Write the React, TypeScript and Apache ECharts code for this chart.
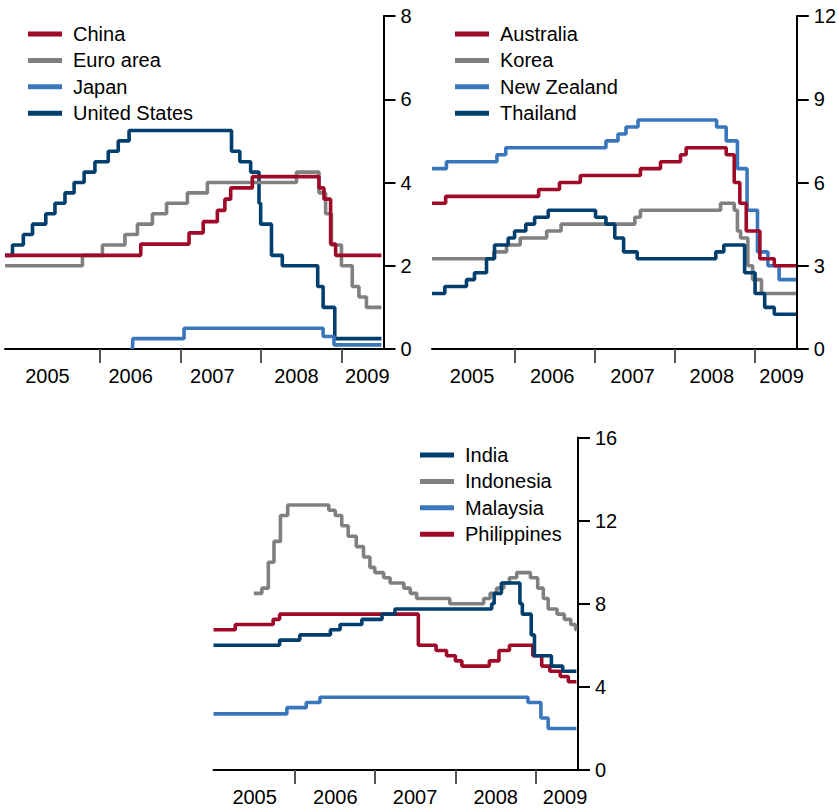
import React, { useEffect, useRef } from "react";
import * as echarts from "echarts";

const FONT = '"Liberation Sans", Arial, Helvetica, sans-serif';

const RED = "#9e0a27";
const GRAY = "#808080";
const LIGHT_BLUE = "#3a76bc";
const NAVY = "#003f6d";

// Year label text
const yearLabels = ["2005", "2006", "2007", "2008", "2009"];

// ---------- Panel 1 (left): China, Euro area, Japan, United States ----------
const END_L = 2009.52;
const chinaRates: [number, number][] = [
  [2005.0, 2.25], [2006.63, 2.52], [2007.21, 2.79], [2007.38, 3.06], [2007.55, 3.33],
  [2007.64, 3.6], [2007.71, 3.87], [2007.97, 4.14], [2008.77, 3.87], [2008.83, 3.6],
  [2008.91, 2.52], [2008.97, 2.25], [END_L, 2.25],
];
const euroRates: [number, number][] = [
  [2005.0, 2.0], [2005.93, 2.25], [2006.17, 2.5], [2006.44, 2.75], [2006.59, 3.0],
  [2006.77, 3.25], [2006.94, 3.5], [2007.19, 3.75], [2007.43, 4.0], [2008.5, 4.25],
  [2008.77, 3.75], [2008.85, 3.25], [2008.92, 2.5], [2009.04, 2.0], [2009.17, 1.5],
  [2009.25, 1.25], [2009.34, 1.0], [END_L, 1.0],
];
const japanRates: [number, number][] = [
  [2006.53, 0], [2006.535, 0.25], [2007.15, 0.5], [2008.82, 0.3], [2008.95, 0.1], [END_L, 0.1],
];
const usRates: [number, number][] = [
  [2005.0, 2.25], [2005.09, 2.5], [2005.22, 2.75], [2005.33, 3.0], [2005.49, 3.25],
  [2005.6, 3.5], [2005.72, 3.75], [2005.83, 4.0], [2005.95, 4.25], [2006.08, 4.5],
  [2006.24, 4.75], [2006.36, 5.0], [2006.49, 5.25], [2007.72, 4.75], [2007.82, 4.5],
  [2007.95, 4.25], [2008.05, 3.5], [2008.07, 3.0], [2008.2, 2.25], [2008.33, 2.0],
  [2008.755, 1.5], [2008.82, 1.0], [2008.96, 0.25], [END_L, 0.25],
];
const leftTicks = [2006.14, 2007.11, 2008.07, 2009.04];
const leftLabelPos = [2005.51, 2006.51, 2007.49, 2008.5, 2009.35];

// ---------- Panel 2 (right): Australia, Korea, New Zealand, Thailand ----------
const END_R = 2009.54;
const australiaRates: [number, number][] = [
  [2005.0, 5.25], [2005.17, 5.5], [2006.33, 5.75], [2006.59, 6.0], [2006.85, 6.25],
  [2007.6, 6.5], [2007.85, 6.75], [2008.1, 7.0], [2008.17, 7.25], [2008.67, 7.0],
  [2008.77, 6.0], [2008.84, 5.25], [2008.92, 4.25], [2009.09, 3.25], [2009.27, 3.0],
  [END_R, 3.0],
];
const koreaRates: [number, number][] = [
  [2005.0, 3.25], [2005.77, 3.5], [2005.93, 3.75], [2006.1, 4.0], [2006.43, 4.25],
  [2006.61, 4.5], [2007.53, 4.75], [2007.6, 5.0], [2008.6, 5.25], [2008.77, 5.0],
  [2008.81, 4.25], [2008.85, 4.0], [2008.94, 3.0], [2009.0, 2.5], [2009.11, 2.0],
  [END_R, 2.0],
];
const newZealandRates: [number, number][] = [
  [2005.0, 6.5], [2005.18, 6.75], [2005.81, 7.0], [2005.92, 7.25], [2007.17, 7.5],
  [2007.32, 7.75], [2007.42, 8.0], [2007.57, 8.25], [2008.55, 8.0], [2008.67, 7.5],
  [2008.81, 6.5], [2008.93, 5.0], [2009.06, 3.5], [2009.19, 3.0], [2009.33, 2.5],
  [END_R, 2.5],
];
const thailandRates: [number, number][] = [
  [2005.0, 2.0], [2005.16, 2.25], [2005.43, 2.5], [2005.53, 2.75], [2005.68, 3.25],
  [2005.78, 3.75], [2005.95, 4.0], [2006.03, 4.25], [2006.17, 4.5], [2006.28, 4.75],
  [2006.45, 5.0], [2007.04, 4.75], [2007.17, 4.5], [2007.28, 4.0], [2007.39, 3.5],
  [2007.56, 3.25], [2008.54, 3.5], [2008.64, 3.75], [2008.9, 2.75], [2009.03, 2.0],
  [2009.15, 1.5], [2009.27, 1.25], [END_R, 1.25],
];
const rightTicks = [2006.03, 2007.03, 2008.03, 2009.03];
const rightLabelPos = [2005.5, 2006.5, 2007.5, 2008.49, 2009.36];

// ---------- Panel 3 (bottom): India, Indonesia, Malaysia, Philippines ----------
const END_B = 2009.5;
const indiaRates: [number, number][] = [
  [2005.0, 6.0], [2005.82, 6.25], [2006.07, 6.5], [2006.45, 6.75], [2006.57, 7.0],
  [2006.84, 7.25], [2007.09, 7.5], [2007.25, 7.75], [2008.45, 8.0], [2008.48, 8.5],
  [2008.57, 9.0], [2008.8, 8.0], [2008.83, 7.5], [2008.94, 6.5], [2008.98, 5.5],
  [2009.19, 5.0], [2009.33, 4.75], [END_B, 4.75],
];
const indonesiaRates: [number, number][] = [
  [2005.5, 8.5], [2005.6, 8.75], [2005.68, 10.0], [2005.75, 11.0], [2005.83, 12.25],
  [2005.92, 12.75], [2006.43, 12.5], [2006.51, 12.25], [2006.59, 11.75], [2006.67, 11.25],
  [2006.77, 10.75], [2006.86, 10.25], [2006.94, 9.75], [2007.0, 9.5], [2007.11, 9.25],
  [2007.19, 9.0], [2007.36, 8.75], [2007.44, 8.5], [2007.52, 8.25], [2007.93, 8.0],
  [2008.35, 8.25], [2008.43, 8.5], [2008.51, 8.75], [2008.6, 9.0], [2008.67, 9.25],
  [2008.76, 9.5], [2008.93, 9.25], [2009.02, 8.75], [2009.09, 8.25], [2009.15, 7.75],
  [2009.26, 7.5], [2009.35, 7.25], [2009.43, 7.0], [2009.49, 6.75], [END_B, 6.75],
];
const malaysiaRates: [number, number][] = [
  [2005.0, 2.7], [2005.91, 3.0], [2006.15, 3.25], [2006.32, 3.5], [2008.9, 3.25],
  [2009.06, 2.5], [2009.15, 2.0], [END_B, 2.0],
];
const philippinesRates: [number, number][] = [
  [2005.0, 6.75], [2005.27, 7.0], [2005.74, 7.25], [2005.82, 7.5], [2007.54, 6.0],
  [2007.76, 5.75], [2007.89, 5.5], [2008.0, 5.25], [2008.08, 5.0], [2008.42, 5.25],
  [2008.54, 5.75], [2008.67, 6.0], [2008.96, 5.5], [2009.07, 5.0], [2009.17, 4.75],
  [2009.3, 4.5], [2009.4, 4.25], [END_B, 4.25],
];
const bottomTicks = [2006.01, 2007.0, 2008.0, 2009.0];
const bottomLabelPos = [2005.51, 2006.51, 2007.5, 2008.5, 2009.36];

function xAxisFor(gridIndex: number, max: number, ticks: number[], labelPos: number[]) {
  return {
    type: "value",
    gridIndex,
    min: 2005.0,
    max,
    axisLine: { show: true, onZero: false, lineStyle: { color: "#000", width: 2 } },
    axisTick: {
      show: true,
      customValues: ticks,
      length: 14,
      lineStyle: { color: "#555", width: 2 },
    },
    axisLabel: {
      customValues: labelPos,
      formatter: (v: number) => {
        const i = labelPos.findIndex((p) => Math.abs(p - v) < 1e-6);
        return i >= 0 ? yearLabels[i] : "";
      },
      fontSize: 20,
      fontFamily: FONT,
      color: "#000",
      margin: 17,
      hideOverlap: false,
      showMinLabel: true,
      showMaxLabel: true,
    },
    splitLine: { show: false },
  };
}

function yAxisFor(gridIndex: number, max: number, interval: number) {
  return {
    type: "value",
    gridIndex,
    position: "right",
    min: 0,
    max,
    interval,
    axisLine: { show: true, lineStyle: { color: "#000", width: 2 } },
    axisTick: { show: true, length: 12, lineStyle: { color: "#000", width: 2 } },
    axisLabel: { fontSize: 20, fontFamily: FONT, color: "#000", margin: 17 },
    splitLine: { show: false },
  };
}

function lineSeries(name: string, data: [number, number][], color: string, idx: number) {
  return {
    name,
    type: "line",
    step: "end",
    xAxisIndex: idx,
    yAxisIndex: idx,
    data,
    showSymbol: false,
    symbol: "none",
    color,
    lineStyle: { color, width: 3.6 },
    emphasis: { disabled: true },
  };
}

function legendFor(names: string[], left: number, top: number) {
  return {
    data: names,
    left,
    top,
    padding: 0,
    orient: "vertical",
    icon: "rect",
    itemWidth: 34,
    itemHeight: 5,
    itemGap: 6.4,
    selectedMode: false,
    textStyle: { fontSize: 20, fontFamily: FONT, color: "#000", padding: [0, 0, 0, 6] },
  };
}

export default function App() {
  const ref = useRef<HTMLDivElement>(null);
  useEffect(() => {
    if (!ref.current) return;
    const chart = echarts.init(ref.current, null, { renderer: "svg" });
    chart.setOption({
      animation: false,
      backgroundColor: "#fff",
      textStyle: { fontFamily: FONT },
      grid: [
        { left: 5, top: 16, width: 378.5, height: 333 },
        { left: 432, top: 16, width: 367, height: 333 },
        { left: 213.5, top: 437.5, width: 364.5, height: 332.5 },
      ],
      xAxis: [
        xAxisFor(0, 2009.545, leftTicks, leftLabelPos),
        xAxisFor(1, 2009.55, rightTicks, rightLabelPos),
        xAxisFor(2, 2009.52, bottomTicks, bottomLabelPos),
      ],
      yAxis: [yAxisFor(0, 8, 2), yAxisFor(1, 12, 3), yAxisFor(2, 16, 4)],
      legend: [
        legendFor(["China", "Euro area", "Japan", "United States"], 28, 24),
        legendFor(["Australia", "Korea", "New Zealand", "Thailand"], 455, 24),
        legendFor(["India", "Indonesia", "Malaysia", "Philippines"], 420, 445),
      ],
      series: [
        lineSeries("United States", usRates, NAVY, 0),
        lineSeries("Japan", japanRates, LIGHT_BLUE, 0),
        lineSeries("Euro area", euroRates, GRAY, 0),
        lineSeries("China", chinaRates, RED, 0),
        lineSeries("New Zealand", newZealandRates, LIGHT_BLUE, 1),
        lineSeries("Korea", koreaRates, GRAY, 1),
        lineSeries("Thailand", thailandRates, NAVY, 1),
        lineSeries("Australia", australiaRates, RED, 1),
        lineSeries("Malaysia", malaysiaRates, LIGHT_BLUE, 2),
        lineSeries("Indonesia", indonesiaRates, GRAY, 2),
        lineSeries("Philippines", philippinesRates, RED, 2),
        lineSeries("India", indiaRates, NAVY, 2),
      ],
    });
    return () => chart.dispose();
  }, []);
  return (
    <div
      ref={ref}
      style={{ position: "absolute", left: 0, top: 0, width: 839, height: 810, background: "#fff" }}
    />
  );
}
